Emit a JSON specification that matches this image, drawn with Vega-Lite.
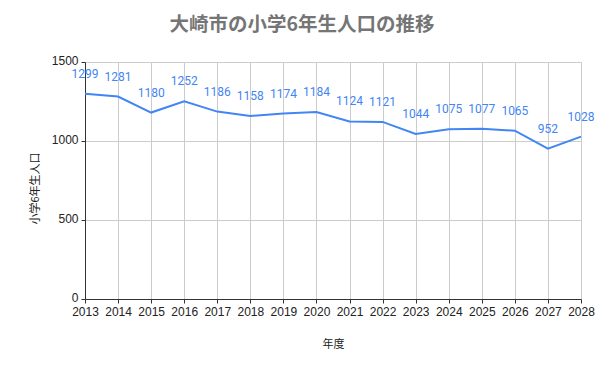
{
  "$schema": "https://vega.github.io/schema/vega-lite/v6.json",
  "autosize": "none",
  "width": 496,
  "height": 237,
  "padding": {"left": 85, "top": 62, "right": 19, "bottom": 72},
  "background": "white",
  "title": {
    "text": "大崎市の小学6年生人口の推移",
    "font": "Noto Sans CJK JP",
    "fontSize": 19.5,
    "fontWeight": "bold",
    "color": "#757575",
    "anchor": "middle",
    "dx": -31,
    "offset": 19
  },
  "config": {
    "view": {"stroke": null},
    "axis": {
      "labelFont": "Liberation Sans",
      "labelFontSize": 12,
      "labelColor": "#222222",
      "titleFont": "Noto Sans CJK JP",
      "titleFontSize": 11,
      "titleFontWeight": "normal",
      "titleColor": "#222222",
      "gridColor": "#cccccc",
      "domainColor": "#333333",
      "tickColor": "#333333",
      "tickSize": 4
    }
  },
  "data": {
    "values": [
      {"year": 2013, "pop": 1299},
      {"year": 2014, "pop": 1281},
      {"year": 2015, "pop": 1180},
      {"year": 2016, "pop": 1252},
      {"year": 2017, "pop": 1186},
      {"year": 2018, "pop": 1158},
      {"year": 2019, "pop": 1174},
      {"year": 2020, "pop": 1184},
      {"year": 2021, "pop": 1124},
      {"year": 2022, "pop": 1121},
      {"year": 2023, "pop": 1044},
      {"year": 2024, "pop": 1075},
      {"year": 2025, "pop": 1077},
      {"year": 2026, "pop": 1065},
      {"year": 2027, "pop": 952},
      {"year": 2028, "pop": 1028}
    ]
  },
  "encoding": {
    "x": {
      "field": "year",
      "type": "quantitative",
      "scale": {"domain": [2013, 2028], "nice": false, "zero": false},
      "axis": {
        "title": "年度",
        "values": [2013,2014,2015,2016,2017,2018,2019,2020,2021,2022,2023,2024,2025,2026,2027,2028],
        "format": "d",
        "labelPadding": 3,
        "labelOverlap": false,
        "labelFlush": false,
        "titleX": 248,
        "titleY": 45,
        "titleBaseline": "middle"
      }
    },
    "y": {
      "field": "pop",
      "type": "quantitative",
      "scale": {"domain": [0, 1500], "nice": false},
      "axis": {
        "title": "小学6年生人口",
        "values": [0, 500, 1000, 1500],
        "format": "d",
        "labelPadding": 3,
        "labelBaseline": "bottom",
        "labelOffset": 5,
        "titleX": -50,
        "titleY": 126,
        "titleAngle": -90,
        "titleAlign": "center",
        "titleBaseline": "middle"
      }
    }
  },
  "layer": [
    {
      "mark": {"type": "line", "color": "#4285F4", "strokeWidth": 2}
    },
    {
      "mark": {"type": "text", "color": "#4285F4", "font": "Roboto", "fontSize": 12, "baseline": "middle", "align": "center", "dy": -20},
      "encoding": {"text": {"field": "pop", "type": "quantitative", "format": "d"}}
    }
  ]
}
